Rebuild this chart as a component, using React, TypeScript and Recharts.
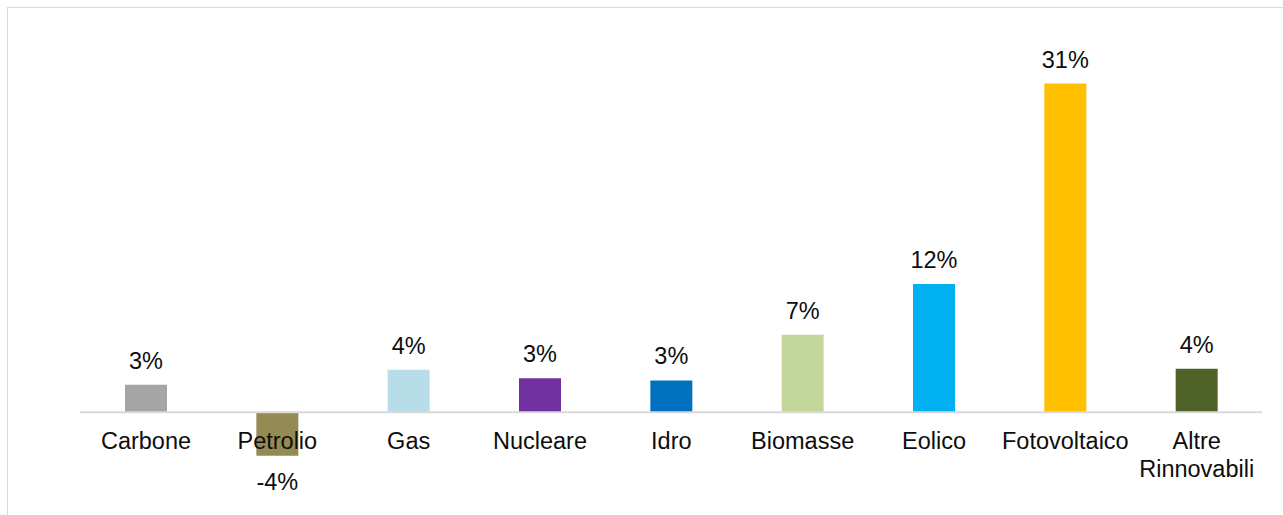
import { BarChart, Bar, XAxis, YAxis, Cell, LabelList, ReferenceLine } from "recharts";

const categories = [
  "Carbone",
  "Petrolio",
  "Gas",
  "Nucleare",
  "Idro",
  "Biomasse",
  "Eolico",
  "Fotovoltaico",
  "Altre\nRinnovabili",
];
const values = [2.6, -4.1, 4.0, 3.2, 3.0, 7.3, 12.1, 31.0, 4.1];
const colors = ["#a5a5a5", "#948a54", "#b7dde8", "#7030a0", "#0070c0", "#c4d79b", "#00b0f0", "#ffc000", "#4f6228"];

const data = categories.map((name, i) => ({ name, value: values[i] }));

const FONT = "'Liberation Sans', Arial, sans-serif";

function ValueLabel(props: any) {
  const { x, y, width, height, value } = props;
  const top = Math.min(y, y + height);
  const bottom = Math.max(y, y + height);
  const cx = x + width / 2;
  const ty = value >= 0 ? top - 16 : bottom + 34;
  return (
    <text x={cx} y={ty} textAnchor="middle" fontSize={23.5} fontFamily={FONT} fill="#0d0d0d">
      {`${Math.round(value)}%`}
    </text>
  );
}

function CategoryLabel(props: any) {
  const { x, y, width, height, index } = props;
  const v = values[index];
  const base = v >= 0 ? Math.max(y, y + height) : Math.min(y, y + height);
  const cx = x + width / 2;
  const lines = String(categories[index]).split("\n");
  return (
    <text x={cx} y={base + 37} textAnchor="middle" fontSize={23.5} fontFamily={FONT} fill="#0d0d0d">
      {lines.map((l, i) => (
        <tspan key={i} x={cx} dy={i === 0 ? 0 : 28}>
          {l}
        </tspan>
      ))}
    </text>
  );
}

export default function App() {
  return (
    <div style={{ position: "absolute", left: 0, top: 0, width: 1283, height: 515, overflow: "hidden", background: "#fff" }}>
      <div
        style={{
          position: "absolute",
          left: 7,
          top: 7,
          width: 1320,
          height: 600,
          border: "1px solid #d9d9d9",
        }}
      />
      <div style={{ position: "absolute", left: 0, top: 0 }}>
        <BarChart width={1283} height={515} data={data} margin={{ top: 73, right: 21, left: 80, bottom: 18 }}>
          <XAxis dataKey="name" hide />
          <YAxis hide domain={[-8, 32]} />
          <Bar dataKey="value" barSize={42} isAnimationActive={false}>
            {data.map((_, i) => (
              <Cell key={i} fill={colors[i]} />
            ))}
            <LabelList dataKey="value" content={ValueLabel} />
            <LabelList dataKey="name" content={CategoryLabel} />
          </Bar>
          <ReferenceLine y={0} stroke="#d9d9d9" strokeWidth={2} />
        </BarChart>
      </div>
    </div>
  );
}
